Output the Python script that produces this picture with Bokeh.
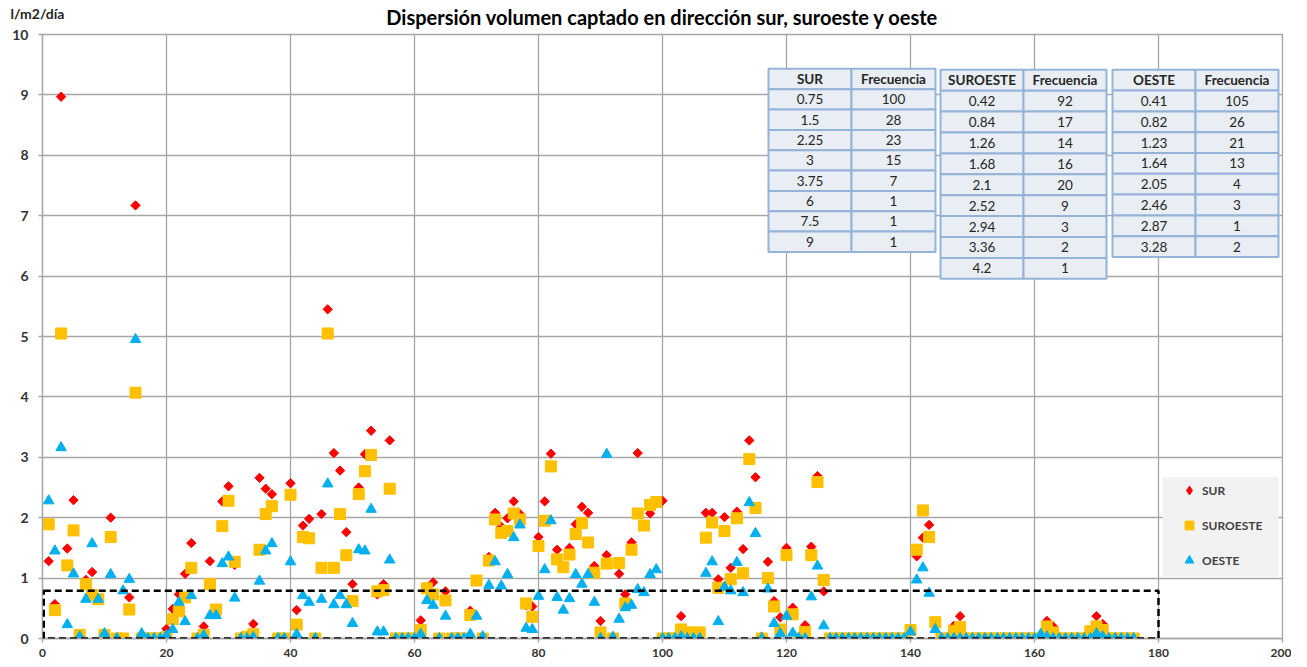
import math
from bokeh.plotting import figure
from bokeh.models import (Range1d, FixedTicker, Legend, LegendItem, BoxAnnotation,
                          Label, ColumnDataSource)
from bokeh.core.properties import value
from bokeh.embed import file_html
from bokeh.resources import INLINE

# ---------------- data ----------------
days = list(range(1, 177))

sur = [
    1.28, 0.57, 8.97, 1.49, 2.29, 0.03, 0.97, 1.10, 0.65, 0.05,
    2.00, 0.00, 0.00, 0.68, 7.17, 0.00, 0.00, 0.00, 0.00, 0.16,
    0.49, 0.73, 1.07, 1.58, 0.00, 0.20, 1.28, 0.48, 2.27, 2.52,
    1.22, 0.00, 0.00, 0.24, 2.66, 2.48, 2.39, 0.00, 0.00, 2.57,
    0.47, 1.87, 1.98, 0.00, 2.06, 5.45, 3.07, 2.78, 1.76, 0.90,
    2.50, 3.05, 3.44, 0.73, 0.90, 3.28, 0.00, 0.00, 0.00, 0.00,
    0.30, 0.85, 0.93, 0.00, 0.78, 0.00, 0.00, 0.00, 0.46, 0.96,
    0.00, 1.35, 2.08, 1.85, 1.99, 2.27, 2.06, 0.55, 0.53, 1.68,
    2.27, 3.06, 1.47, 1.20, 1.50, 1.89, 2.18, 2.08, 1.20, 0.29,
    1.38, 0.00, 1.07, 0.73, 1.59, 3.07, 1.87, 2.07, 2.26, 2.28,
    0.00, 0.00, 0.37, 0.10, 0.10, 0.10, 2.08, 2.08, 0.98, 2.01,
    1.17, 2.10, 1.48, 3.28, 2.67, 0.03, 1.27, 0.62, 0.35, 1.50,
    0.51, 0.00, 0.22, 1.52, 2.69, 0.78, 0.00, 0.00, 0.00, 0.00,
    0.00, 0.00, 0.00, 0.00, 0.00, 0.00, 0.00, 0.00, 0.00, 0.13,
    1.36, 1.67, 1.88, 0.27, 0.00, 0.00, 0.21, 0.37, 0.00, 0.00,
    0.00, 0.00, 0.00, 0.00, 0.00, 0.00, 0.00, 0.00, 0.00, 0.00,
    0.05, 0.29, 0.20, 0.00, 0.00, 0.00, 0.00, 0.00, 0.10, 0.37,
    0.24, 0.00, 0.00, 0.00, 0.00, 0.00,
]

suroeste = [
    1.89, 0.47, 5.05, 1.21, 1.79, 0.06, 0.90, 0.72, 0.65, 0.06,
    1.68, 0.00, 0.00, 0.48, 4.07, 0.00, 0.00, 0.00, 0.00, 0.02,
    0.32, 0.45, 0.68, 1.17, 0.00, 0.06, 0.90, 0.48, 1.86, 2.28,
    1.27, 0.00, 0.03, 0.07, 1.47, 2.06, 2.19, 0.00, 0.00, 2.38,
    0.23, 1.68, 1.66, 0.00, 1.17, 5.05, 1.17, 2.06, 1.38, 0.62,
    2.39, 2.77, 3.04, 0.78, 0.80, 2.48, 0.00, 0.00, 0.00, 0.00,
    0.14, 0.83, 0.73, 0.00, 0.63, 0.00, 0.00, 0.00, 0.39, 0.96,
    0.00, 1.29, 1.97, 1.75, 1.78, 2.07, 1.97, 0.58, 0.36, 1.53,
    1.95, 2.85, 1.31, 1.18, 1.39, 1.73, 1.91, 1.59, 1.09, 0.10,
    1.24, 0.00, 1.25, 0.58, 1.47, 2.07, 1.87, 2.21, 2.26, 0.00,
    0.00, 0.00, 0.15, 0.10, 0.10, 0.10, 1.67, 1.92, 0.84, 1.78,
    0.98, 1.99, 1.08, 2.97, 2.16, 0.00, 1.00, 0.53, 0.15, 1.38,
    0.40, 0.00, 0.11, 1.38, 2.59, 0.97, 0.00, 0.00, 0.00, 0.00,
    0.00, 0.00, 0.00, 0.00, 0.00, 0.00, 0.00, 0.00, 0.00, 0.14,
    1.47, 2.12, 1.68, 0.27, 0.00, 0.00, 0.13, 0.19, 0.00, 0.00,
    0.00, 0.00, 0.00, 0.00, 0.00, 0.00, 0.00, 0.00, 0.00, 0.00,
    0.00, 0.20, 0.10, 0.00, 0.00, 0.00, 0.00, 0.00, 0.12, 0.20,
    0.14, 0.00, 0.00, 0.00, 0.00, 0.00,
]

oeste = [
    2.28, 1.45, 3.16, 0.23, 1.07, 0.03, 0.65, 1.57, 0.65, 0.08,
    1.06, 0.00, 0.79, 0.98, 4.95, 0.08, 0.00, 0.00, 0.00, 0.05,
    0.15, 0.60, 0.28, 0.71, 0.00, 0.05, 0.38, 0.38, 1.24, 1.35,
    0.67, 0.00, 0.00, 0.02, 0.95, 1.45, 1.57, 0.00, 0.00, 1.27,
    0.07, 0.71, 0.60, 0.00, 0.65, 2.56, 0.56, 0.71, 0.56, 0.25,
    1.47, 1.45, 2.14, 0.11, 0.11, 1.30, 0.00, 0.00, 0.00, 0.00,
    0.07, 0.63, 0.55, 0.00, 0.37, 0.00, 0.00, 0.00, 0.07, 0.37,
    0.03, 0.88, 1.27, 0.87, 1.06, 1.67, 1.88, 0.17, 0.15, 0.70,
    1.14, 1.95, 0.68, 0.47, 0.66, 1.06, 0.90, 1.06, 0.60, 0.00,
    3.05, 0.02, 0.32, 0.51, 0.55, 0.81, 0.76, 1.06, 1.14, 0.00,
    0.00, 0.00, 0.03, 0.00, 0.00, 0.00, 1.08, 1.27, 0.28, 0.85,
    0.79, 1.26, 0.76, 2.25, 1.74, 0.00, 0.82, 0.25, 0.08, 0.37,
    0.09, 0.00, 0.00, 0.69, 1.20, 0.21, 0.00, 0.00, 0.00, 0.00,
    0.00, 0.00, 0.00, 0.00, 0.00, 0.00, 0.00, 0.00, 0.00, 0.11,
    0.97, 1.17, 0.75, 0.15, 0.00, 0.00, 0.00, 0.00, 0.00, 0.00,
    0.00, 0.00, 0.00, 0.00, 0.00, 0.00, 0.00, 0.00, 0.00, 0.00,
    0.07, 0.03, 0.00, 0.00, 0.00, 0.00, 0.00, 0.00, 0.00, 0.08,
    0.03, 0.00, 0.00, 0.00, 0.00, 0.00,
]

x_ticks = [0, 20, 40, 60, 80, 100, 120, 140, 160, 180, 200]
y_ticks = [0, 1, 2, 3, 4, 5, 6, 7, 8, 9, 10]

series_names = ["SUR", "SUROESTE", "OESTE"]
title_text = "Dispersión volumen captado en dirección sur, suroeste y oeste"
y_label_text = "l/m2/día"

freq_header = "Frecuencia"
sur_bins = ["0.75", "1.5", "2.25", "3", "3.75", "6", "7.5", "9"]
sur_freq = ["100", "28", "23", "15", "7", "1", "1", "1"]
so_bins = ["0.42", "0.84", "1.26", "1.68", "2.1", "2.52", "2.94", "3.36", "4.2"]
so_freq = ["92", "17", "14", "16", "20", "9", "3", "2", "1"]
oe_bins = ["0.41", "0.82", "1.23", "1.64", "2.05", "2.46", "2.87", "3.28"]
oe_freq = ["105", "26", "21", "13", "4", "3", "1", "2"]

# ---------------- style ----------------
FONT = "Lato"
GRID = "#a6a6a6"
RED = "#ff0000"
YEL = "#ffc000"
BLU = "#00b0f0"
TXT = "#262626"

FRAME_W, FRAME_H = 1240, 604

p = figure(frame_width=FRAME_W, frame_height=FRAME_H,
           x_range=Range1d(0, 200), y_range=Range1d(0, 10),
           output_backend="svg", toolbar_location=None,
           min_border_left=42, min_border_right=9,
           min_border_top=34, min_border_bottom=24,
           background_fill_color="white", border_fill_color="white")

p.title.text = title_text
p.title.text_font = FONT
p.title.text_font_size = "20px"
p.title.text_font_style = "bold"
p.title.text_color = "#000000"
p.title.align = "center"
p.title.standoff = -22

# axes
for ax in (p.xaxis, p.yaxis):
    ax.axis_line_color = GRID
    ax.axis_line_width = 1.3
    ax.major_tick_line_color = GRID
    ax.major_tick_line_width = 1.3
    ax.major_tick_out = 4
    ax.major_tick_in = 0
    ax.minor_tick_line_color = None
    ax.major_label_text_font = FONT
    ax.major_label_text_font_style = "bold"
    ax.major_label_text_color = "#333333"
p.xaxis.ticker = FixedTicker(ticks=x_ticks)
p.yaxis.ticker = FixedTicker(ticks=y_ticks)
p.xaxis.major_label_text_font_size = "12px"
p.yaxis.major_label_text_font_size = "14px"
p.xaxis.major_label_standoff = 6
p.yaxis.major_label_standoff = 10

p.xgrid.ticker = FixedTicker(ticks=x_ticks)
p.ygrid.ticker = FixedTicker(ticks=y_ticks)
for g in (p.xgrid, p.ygrid):
    g.grid_line_color = GRID
    g.grid_line_width = 1.3
p.outline_line_color = GRID
p.outline_line_width = 1.3

# ---------------- tables (positioned like in the reference) ----------------
def dx(px):
    return (px - 42) / 6.2

def dy(py):
    return (641 - py) / 60.7

tables = [
    # left, mid, right, top, row height, header, bins, freqs
    (768, 851, 935, 68.5, 20.45, "SUR", sur_bins, sur_freq),
    (940, 1023, 1106, 69.5, 21.0, "SUROESTE", so_bins, so_freq),
    (1112, 1195, 1278, 69.5, 20.9, "OESTE", oe_bins, oe_freq),
]

ql, qr, qt, qb = [], [], [], []
hx, hy, ht = [], [], []
bx, by, bt = [], [], []
for (l, m, r, t, rh, head, bins, freqs) in tables:
    n = len(bins) + 1
    for i in range(n):
        top = t + i * rh
        bot = top + rh
        for (a, b) in ((l, m), (m, r)):
            ql.append(dx(a)); qr.append(dx(b)); qt.append(dy(top)); qb.append(dy(bot))
        cy = dy(top + rh / 2)
        if i == 0:
            hx += [dx((l + m) / 2), dx((m + r) / 2)]
            hy += [cy, cy]
            ht += [head, freq_header]
        else:
            bx += [dx((l + m) / 2), dx((m + r) / 2)]
            by += [cy, cy]
            bt += [bins[i - 1], freqs[i - 1]]

p.quad(left=ql, right=qr, top=qt, bottom=qb, fill_color="#e9edf4",
       line_color="#95b3d7", line_width=2)
p.text(x=hx, y=hy, text=ht, text_font=value(FONT), text_font_size="13.5px",
       text_font_style="bold", text_align="center", text_baseline="middle",
       text_color=TXT)
p.text(x=bx, y=by, text=bt, text_font=value(FONT), text_font_size="13.5px",
       text_align="center", text_baseline="middle", text_color=TXT)

# ---------------- scatter series ----------------
src = ColumnDataSource(dict(day=days, sur=sur, so=suroeste, oe=oeste))
r_sur = p.scatter("day", "sur", source=src, marker="square", angle=math.pi / 4,
                  size=6.6, fill_color=RED, line_color=RED)
r_so = p.scatter("day", "so", source=src, marker="square", size=11,
                 fill_color=YEL, line_color=YEL)
r_oe = p.scatter("day", "oe", source=src, marker="triangle", size=10.5,
                 fill_color=BLU, line_color=BLU)

# legend-only glyph for the diamond (legend ignores glyph angle); point lies off-frame
leg_sur = p.scatter(x=[-50], y=[-50], marker="diamond", size=9,
                    fill_color=RED, line_color=RED)

# dashed highlight box
p.add_layout(BoxAnnotation(left=0.2, right=180, bottom=0.0, top=0.79,
                           fill_alpha=0, line_color="black", line_alpha=1,
                           line_width=2.5, line_dash="7 4"))

# legend background + legend
p.add_layout(BoxAnnotation(left=dx(1162), right=dx(1278), top=dy(479), bottom=dy(579),
                           fill_color="#f2f2f2", fill_alpha=1, line_alpha=0))
legend = Legend(items=[LegendItem(label=series_names[0], renderers=[leg_sur]),
                       LegendItem(label=series_names[1], renderers=[r_so]),
                       LegendItem(label=series_names[2], renderers=[r_oe])],
                location=(1132, round(dy(578) * FRAME_H / 10)),
                glyph_width=22, glyph_height=22, label_height=22,
                spacing=13, padding=4, label_standoff=2,
                background_fill_alpha=0, border_line_alpha=0,
                label_text_font=FONT, label_text_font_style="bold",
                label_text_font_size="12px", label_text_color="#404040")
p.add_layout(legend)

# y unit label, top-left above the axis (in the top panel so it is not clipped to the frame)
p.add_layout(Label(x=dx(10), y=10 + 21 / (FRAME_H / 10), text=y_label_text,
                   text_font=FONT, text_font_size="14px", text_font_style="bold",
                   text_baseline="middle", text_color=TXT), "above")

open("out.html", "w").write(file_html(p, INLINE))
